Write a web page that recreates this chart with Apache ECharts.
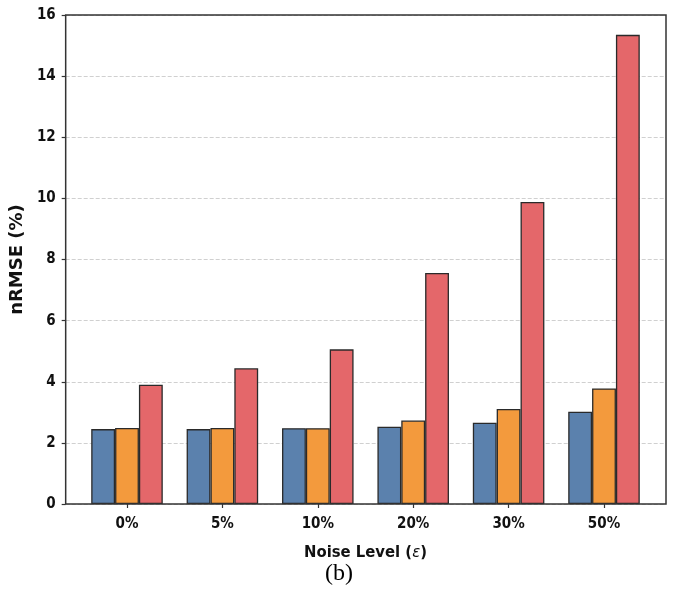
<!DOCTYPE html>
<html>
<head>
<meta charset="utf-8">
<script src="https://cdn.jsdelivr.net/npm/echarts@6/dist/echarts.min.js"></script>
<style>html,body{margin:0;padding:0;background:#fff;}#c{width:674px;height:592px;}</style>
</head>
<body>
<div id="c"></div>
<script>
var categories = ['0%', '5%', '10%', '20%', '30%', '50%'];
var seriesA = [2.45, 2.45, 2.48, 2.53, 2.66, 3.02];
var seriesB = [2.49, 2.49, 2.48, 2.73, 3.11, 3.78];
var seriesC = [3.90, 4.44, 5.06, 7.56, 9.88, 15.35];
var yTicks = {min: 0, max: 16, interval: 2};
var colors = ['#5b81ad', '#f39a3d', '#e4676a'];

var chart = echarts.init(document.getElementById('c'));
var font = 'DejaVu Sans';
var cond = '"DejaVu Sans Condensed", "DejaVu Sans"';
function bar(name, data, color) {
  return {
    name: name, type: 'bar', data: data, xAxisIndex: 1, yAxisIndex: 1,
    barWidth: '25%', barGap: '0%',
    itemStyle: {color: color, borderColor: '#2a2a2a', borderWidth: 1.3}
  };
}
chart.setOption({
  animation: false,
  backgroundColor: '#fff',
  grid: [
    {left: 64, right: 8, top: 15, bottom: 88, show: true, borderColor: '#333', borderWidth: 1.5, backgroundColor: 'transparent', z: 3},
    {left: 79.3, right: 22.3, top: 15, bottom: 88}
  ],
  xAxis: [
    {gridIndex: 0, type: 'value', min: 0, max: 1, show: false},
    {gridIndex: 1, type: 'category', data: categories, boundaryGap: true,
     axisLine: {show: false},
     axisTick: {show: true, alignWithLabel: true, length: 4, lineStyle: {color: '#333', width: 1.2}},
     axisLabel: {fontFamily: cond, fontWeight: 'bold', fontSize: 15, color: '#111', margin: 13},
     name: '{a|Noise Level (}{b|ε}{a|)}', nameLocation: 'middle', nameGap: 40,
     nameTextStyle: {rich: {
       a: {fontFamily: cond, fontWeight: 'bold', fontSize: 16.5, color: '#111'},
       b: {fontFamily: cond, fontStyle: 'italic', fontSize: 16.5, color: '#111'}
     }}
    }
  ],
  yAxis: [
    {gridIndex: 0, type: 'value', min: yTicks.min, max: yTicks.max, interval: yTicks.interval,
     axisLine: {show: false},
     axisTick: {show: true, length: 4, lineStyle: {color: '#333', width: 1.2}},
     axisLabel: {fontFamily: cond, fontWeight: 'bold', fontSize: 15, color: '#111', margin: 10},
     splitLine: {show: true, lineStyle: {color: '#d0d0d0', type: [4, 2], width: 1}},
     name: 'nRMSE (%)', nameLocation: 'middle', nameGap: 36, nameRotate: 90,
     nameTextStyle: {fontFamily: font, fontWeight: 'bold', fontSize: 18, color: '#111'}
    },
    {gridIndex: 1, type: 'value', min: yTicks.min, max: yTicks.max, interval: yTicks.interval, show: false, splitLine: {show: false}}
  ],
  series: [
    bar('A', seriesA, colors[0]),
    bar('B', seriesB, colors[1]),
    bar('C', seriesC, colors[2])
  ],
  graphic: [
    {type: 'text', x: 339, y: 574, style: {text: '(b)', fontFamily: 'Liberation Serif', fontSize: 24, fill: '#000', align: 'center', verticalAlign: 'middle'}}
  ]
});
</script>
</body>
</html>
